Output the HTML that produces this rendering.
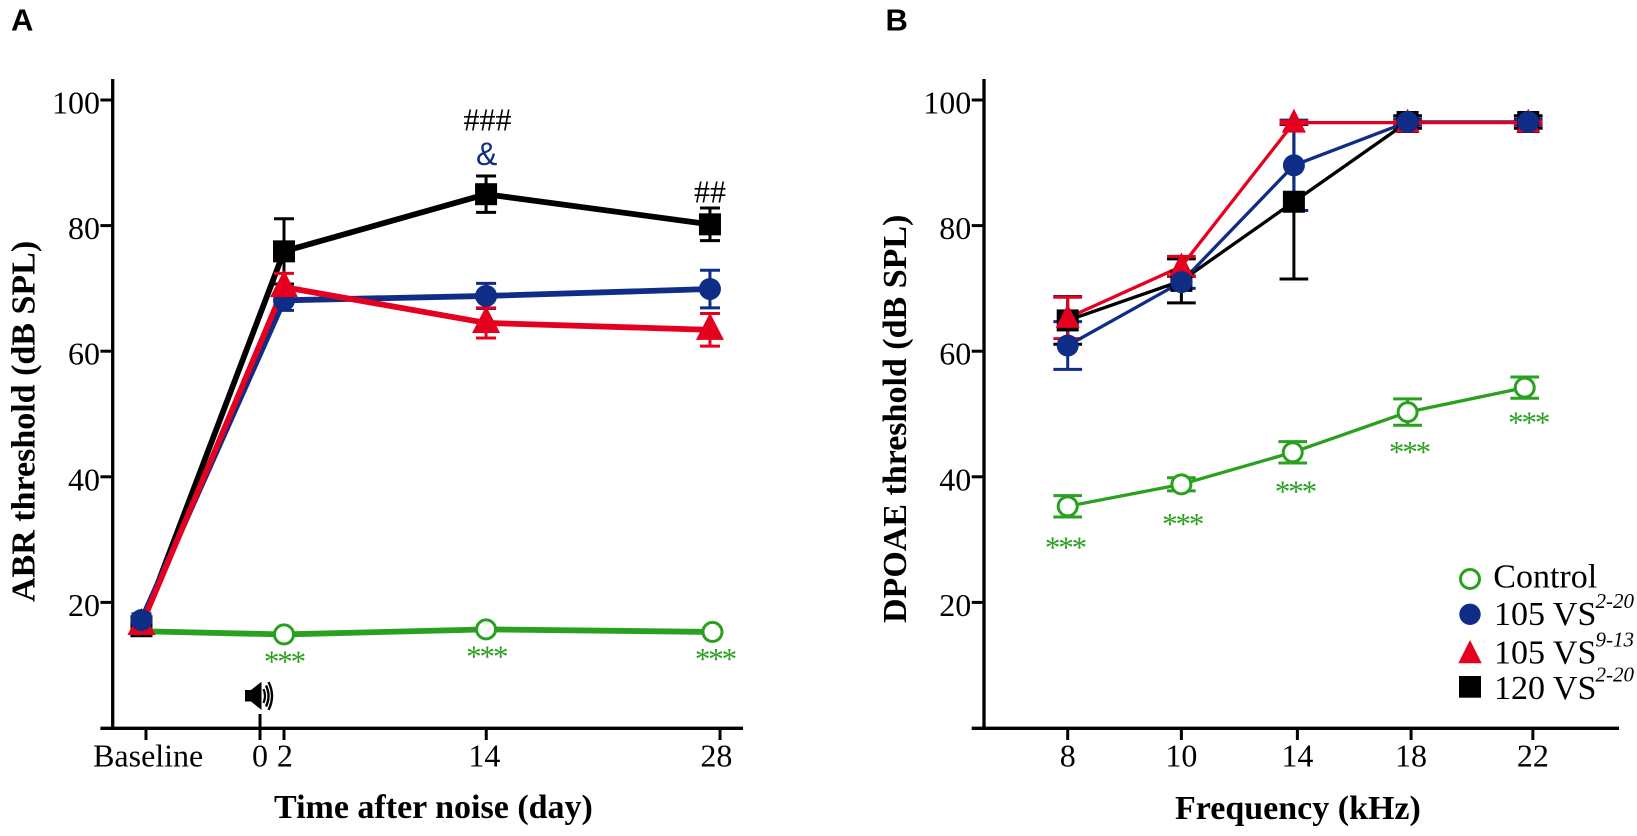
<!DOCTYPE html>
<html lang="en">
<head>
<meta charset="utf-8">
<title>ABR and DPOAE thresholds</title>
<style>
html,body{margin:0;padding:0;background:#fff;}
svg{display:block;}
text{font-family:"Liberation Serif",serif;}
.panel{font-family:"Liberation Sans",sans-serif;font-weight:bold;font-size:31px;}
.title{font-weight:bold;font-size:34px;}
.leg{font-size:34px;}
.sup{font-size:21px;font-style:italic;}
.amp{font-family:"Liberation Sans",sans-serif;}
</style>
</head>
<body>
<svg id="fig" xmlns="http://www.w3.org/2000/svg" width="1637" height="836" viewBox="0 0 1637 836">
  <rect x="0" y="0" width="1637" height="836" fill="#fff"/>
  <text class="panel" x="11" y="30.7">A</text>
  <text class="panel" x="885.5" y="30.7">B</text>
  <text class="title" transform="translate(34.5,602) rotate(-90)">ABR threshold (dB SPL)</text>
  <text class="title" transform="translate(906,623) rotate(-90)">DPOAE threshold (dB SPL)</text>
  <text class="title" x="274" y="818">Time after noise (day)</text>
  <text class="title" x="1175" y="819">Frequency (kHz)</text>

  <g id="chart-a"></g>
  <g id="chart-b"></g>

  <g>
    <rect x="245" y="690" width="7" height="11.5" fill="#000"/>
    <polygon points="251,690 261.5,681.7 261.5,710 251,701.5" fill="#000"/>
    <path d="M263.5 689 Q266.5 696 263.5 703" fill="none" stroke="#000" stroke-width="2.2"/>
    <path d="M266 685.5 Q271 696 266 706.5" fill="none" stroke="#000" stroke-width="2.4"/>
    <path d="M268.5 682 Q275.5 696 268.5 710" fill="none" stroke="#000" stroke-width="2.4"/>
  </g>

  <g font-size="32">
    <text x="487.5" y="130.7" text-anchor="middle" fill="#000">###</text>
    <text class="amp" x="486.7" y="165" text-anchor="middle" fill="#0f2d87">&amp;</text>
    <text x="710" y="202.3" text-anchor="middle" fill="#000">##</text>
  </g>
  <g font-size="31" letter-spacing="-2.1" fill="#2aa01f" text-anchor="middle" transform="translate(-1.05,1.9)">
    <text x="285" y="669.5">***</text>
    <text x="487.3" y="664.5">***</text>
    <text x="716" y="667">***</text>
    <text x="1066" y="555.5">***</text>
    <text x="1183.3" y="532">***</text>
    <text x="1296" y="499.5">***</text>
    <text x="1410" y="460">***</text>
    <text x="1529.3" y="430.5">***</text>
  </g>

  <g>
    <g>
      <circle cx="1470" cy="579" r="9.5" fill="#fff" stroke="#2aa01f" stroke-width="3"/>
      <text class="leg" x="1493.3" y="587.7">Control</text>
    </g>
    <g>
      <circle cx="1470" cy="614.3" r="10.7" fill="#0f2d87"/>
      <text class="leg" x="1494" y="625">105 VS</text>
      <text class="sup" x="1595.5" y="608">2-20</text>
    </g>
    <g>
      <polygon points="1470,640 1481.7,663.3 1458.3,663.3" fill="#e60020"/>
      <text class="leg" x="1494" y="663.3">105 VS</text>
      <text class="sup" x="1595.5" y="646.7">9-13</text>
    </g>
    <g>
      <rect x="1459" y="676" width="22" height="21.7" fill="#000"/>
      <text class="leg" x="1494" y="699">120 VS</text>
      <text class="sup" x="1595.5" y="681.7">2-20</text>
    </g>
  </g>
</svg>
<script>
// ---------- shared y axis ----------
const yTickValues = [20, 40, 60, 80, 100];

// ---------- panel A data (ABR) ----------
const aTickDays = [-6.23, 0.57, 2, 14.06, 28];
const aLabelDays = [-6.1, 0.57, 2.05, 13.95, 27.78];
const aTickLabels = ['Baseline', '0', '2', '14', '28'];
const aSeriesDays = [-6.5, 2, 14.05, 27.4];
const aControlDays = [-6.5, 2, 14.05, 27.55];
const aControl = [15.4, 14.9, 15.7, 15.3];
const aControlErr = [0.5, 0.5, 0.5, 0.5];
const aBlue = [17.2, 68.1, 68.8, 69.9];
const aBlueErr = [1, 1.6, 2, 3];
const aRed = [16.4, 70.2, 64.5, 63.4];
const aRedErr = [1, 2.2, 2.4, 2.6];
const aBlack = [16.2, 75.9, 85, 80.2];
const aBlackErr = [1, 5.2, 2.9, 2.6];

// ---------- panel B data (DPOAE) ----------
const bTickPos = [0, 0.98, 1.98, 2.96, 4.01];
const bTickLabels = ['8', '10', '14', '18', '22'];
const bControlPos = [0, 0.98, 1.94, 2.93, 3.94];
const bSeriesPos = [0, 0.98, 1.95, 2.93, 3.97];
const bControl = [35.3, 38.8, 43.9, 50.3, 54.2];
const bControlErr = [1.7, 1.05, 1.7, 2.1, 1.7];
const bBlue = [60.9, 71, 89.6, 96.5, 96.5];
const bBlueErr = [3.8, 1, 7.2, 0.5, 0.5];
const bRed = [65.3, 73.5, 96.4, 96.4, 96.4];
const bRedErr = [3.3, 1.6, 0.2, 0.2, 0.2];
const bBlack = [64.9, 71.2, 83.8, 96.5, 96.5];
const bBlackErr = [3.8, 3.5, 12.3, 1, 1];

const NS = 'http://www.w3.org/2000/svg';
const GREEN = '#2aa01f', BLUE = '#0f2d87', RED = '#e60020', BLACK = '#000';

function y(v) { return 100 + (100 - v) * 6.28; }
function xA(d) { return 284 + 16.77 * (d - 2); }
function xB(p) { return 1067.7 + 116 * p; }

function mk(parent, tag, attrs, text) {
  const e = document.createElementNS(NS, tag);
  for (const k in attrs) e.setAttribute(k, attrs[k]);
  if (text !== undefined) e.textContent = text;
  parent.appendChild(e);
  return e;
}

function drawAxes(g, o) {
  const yAxis = mk(g, 'line', {x1: o.axisX, x2: o.axisX, y1: 79, y2: 729.9, stroke: BLACK, 'stroke-width': 3.3});
  
  
  const xAxis = mk(g, 'line', {x1: o.axisX - 12.3, x2: o.xEnd, y1: 728.3, y2: 728.3, stroke: BLACK, 'stroke-width': 3.3});
  
  
  yTickValues.forEach(function (v) {
    const t = mk(g, 'line', {x1: o.axisX - 12.3, x2: o.axisX, y1: y(v), y2: y(v), stroke: BLACK, 'stroke-width': 3});
    
    
    const l = mk(g, 'text', {x: o.axisX - 12.7, y: y(v) + 13.5, 'text-anchor': 'end', 'font-size': 32}, String(v));
    
    
  });
  o.ticks.forEach(function (p, i) {
    const px = o.scale(p);
    const t = mk(g, 'line', {x1: px, x2: px, y1: o.tickTop && o.tickTop[i] ? o.tickTop[i] : 728, y2: 740, stroke: BLACK, 'stroke-width': 3});
    
    
    const l = mk(g, 'text', {x: o.scale(o.labelPos[i]), y: 766.5, 'text-anchor': 'middle', 'font-size': 32}, o.labels[i]);
    
    
  });
}

function drawLine(g, s, scale, w) {
  const pts = s.vals.map(function (v, i) { return scale(s.xs[i]) + ',' + y(v); }).join(' ');
  const p = mk(g, 'polyline', {points: pts, fill: 'none', stroke: s.color, 'stroke-width': w, 'stroke-linejoin': 'round'});
  
  
}

function drawErrors(g, s, scale, capW) {
  s.vals.forEach(function (v, i) {
    const px = scale(s.xs[i]);
    const top = y(v + s.errs[i]);
    const bot = y(v - s.errs[i]);
    const eb = mk(g, 'path', {
      d: 'M' + px + ' ' + top + 'V' + bot + 'M' + (px - capW / 2) + ' ' + top + 'H' + (px + capW / 2) + 'M' + (px - capW / 2) + ' ' + bot + 'H' + (px + capW / 2),
      fill: 'none', stroke: s.color, 'stroke-width': 3
    });
    
    
  });
}

function drawMarker(g, s, i, scale, triW, triUp, triDown) {
  const px = scale(s.xs[i]);
  const py = y(s.vals[i]);
  let m;
  if (s.kind === 'open') {
    m = mk(g, 'circle', {cx: px, cy: py, r: 9.5, fill: '#fff', stroke: s.color, 'stroke-width': 3});
  } else if (s.kind === 'circle') {
    m = mk(g, 'circle', {cx: px, cy: py, r: 11, fill: s.color});
  } else if (s.kind === 'tri') {
    m = mk(g, 'polygon', {points: px + ',' + (py - triUp) + ' ' + (px + triW / 2) + ',' + (py + triDown) + ' ' + (px - triW / 2) + ',' + (py + triDown), fill: s.color});
  } else {
    m = mk(g, 'rect', {x: px - 11, y: py - 11, width: 22, height: 22, fill: s.color});
  }
  
  
}

// ---------- panel A ----------
const gA = document.getElementById('chart-a');
drawAxes(gA, {axisX: 112.7, xEnd: 743, scale: xA, ticks: aTickDays, labelPos: aLabelDays, labels: aTickLabels, tickTop: [0, 714, 0, 0, 0]});
const aC = {name: 'control', kind: 'open', color: GREEN, xs: aControlDays, vals: aControl, errs: aControlErr};
const aB = {name: 'vs105-2-20', kind: 'circle', color: BLUE, xs: aSeriesDays, vals: aBlue, errs: aBlueErr};
const aR = {name: 'vs105-9-13', kind: 'tri', color: RED, xs: aSeriesDays, vals: aRed, errs: aRedErr};
const aK = {name: 'vs120-2-20', kind: 'square', color: BLACK, xs: aSeriesDays, vals: aBlack, errs: aBlackErr};
[aC, aK, aB, aR].forEach(function (s) {
  drawLine(gA, s, xA, 5.8);
  if (s !== aC) drawErrors(gA, s, xA, 20);
});
aControl.forEach(function (v, i) {
  // the baseline control circle is fully hidden in the source figure
  const order = i === 0 ? [aK, aR, aB] : [aC, aK, aB, aR];
  order.forEach(function (s) { drawMarker(gA, s, i, xA, 28, 17, 10); });
});

// ---------- panel B ----------
const gB = document.getElementById('chart-b');
drawAxes(gB, {axisX: 984, xEnd: 1619, scale: xB, ticks: bTickPos, labelPos: bTickPos, labels: bTickLabels});
const bC = {name: 'control', kind: 'open', color: GREEN, xs: bControlPos, vals: bControl, errs: bControlErr};
const bB = {name: 'vs105-2-20', kind: 'circle', color: BLUE, xs: bSeriesPos, vals: bBlue, errs: bBlueErr};
const bR = {name: 'vs105-9-13', kind: 'tri', color: RED, xs: bSeriesPos, vals: bRed, errs: bRedErr};
const bK = {name: 'vs120-2-20', kind: 'square', color: BLACK, xs: bSeriesPos, vals: bBlack, errs: bBlackErr};
[bC, bK, bB, bR].forEach(function (s) {
  drawErrors(gB, s, xB, 28.7);
});
[bC, bK, bB, bR].forEach(function (s) {
  drawLine(gB, s, xB, 3.3);
});
bControl.forEach(function (v, i) {
  [bC, bK, bR, bB].forEach(function (s) { drawMarker(gB, s, i, xB, 24, 14, 10); });
});
</script>
</body>
</html>
